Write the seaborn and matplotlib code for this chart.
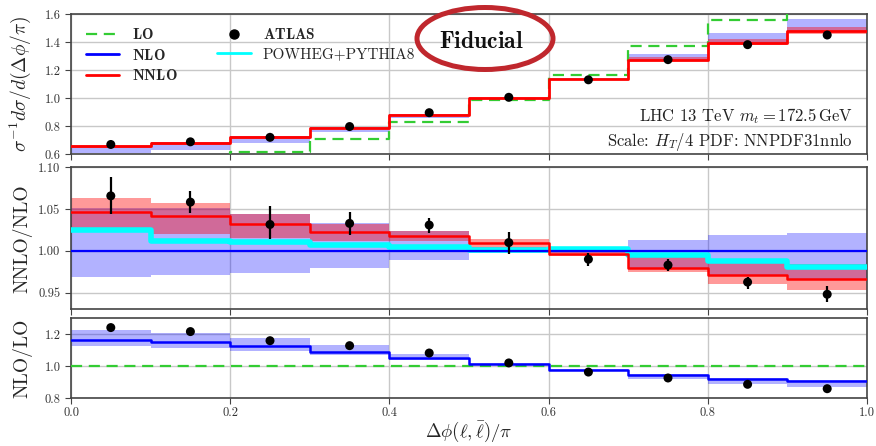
import numpy as np
import matplotlib
matplotlib.use("Agg")
import matplotlib.pyplot as plt
import seaborn as sns
from matplotlib.lines import Line2D
from matplotlib.patches import Ellipse

# ---------------- data ----------------
bin_edges = [0.0, 0.1, 0.2, 0.3, 0.4, 0.5, 0.6, 0.7, 0.8, 0.9, 1.0]
bin_centers = [0.05, 0.15, 0.25, 0.35, 0.45, 0.55, 0.65, 0.75, 0.85, 0.95]

# top panel: normalised distribution
lo_top = [0.540, 0.564, 0.614, 0.705, 0.826, 0.986, 1.164, 1.368, 1.560, 1.690]
nlo_top = [0.628, 0.649, 0.695, 0.770, 0.864, 0.993, 1.139, 1.297, 1.437, 1.531]
nnlo_top = [0.657, 0.676, 0.718, 0.788, 0.880, 1.002, 1.136, 1.272, 1.394, 1.478]
atlas_top = [0.668, 0.687, 0.719, 0.796, 0.895, 1.005, 1.130, 1.274, 1.381, 1.450]

# middle panel: ratio to NLO
nlo_r_hi = [1.052, 1.052, 1.044, 1.033, 1.024, 1.005, 1.002, 1.0134, 1.0187, 1.0218]
nlo_r_lo = [0.9687, 0.9716, 0.974, 0.980, 0.989, 0.997, 0.998, 0.980, 0.970, 0.966]
nnlo_r = [1.0467, 1.0418, 1.0317, 1.0228, 1.0180, 1.0093, 0.9965, 0.9800, 0.9707, 0.9665]
nnlo_r_hi = [1.0634, 1.058, 1.0439, 1.0326, 1.0242, 1.014, 1.000, 0.995, 0.989, 0.984]
nnlo_r_lo = [1.027, 1.0203, 1.0155, 1.0114, 1.012, 1.004, 0.994, 0.9748, 0.9606, 0.9537]
powheg_r = [1.0246, 1.0122, 1.0106, 1.007, 1.005, 1.0016, 1.0028, 0.9947, 0.9874, 0.981]
atlas_r = [1.066, 1.0585, 1.0317, 1.033, 1.031, 1.010, 0.990, 0.983, 0.9626, 0.948]
atlas_r_err_lo = [0.022, 0.0125, 0.018, 0.0135, 0.009, 0.0137, 0.008, 0.007, 0.0086, 0.009]
atlas_r_err_hi = [0.0227, 0.013, 0.0216, 0.014, 0.009, 0.0128, 0.0075, 0.007, 0.0056, 0.010]

# bottom panel: NLO / LO
nlo_lo_r = [1.1625, 1.150, 1.129, 1.092, 1.050, 1.017, 0.979, 0.948, 0.919, 0.906]
nlo_lo_r_hi = [1.229, 1.208, 1.175, 1.131, 1.075, 1.022, 0.985, 0.955, 0.930, 0.912]
nlo_lo_r_lo = [1.127, 1.114, 1.098, 1.069, 1.040, 1.012, 0.970, 0.923, 0.8875, 0.871]
atlas_lo_r = [1.242, 1.217, 1.160, 1.129, 1.083, 1.021, 0.964, 0.927, 0.8875, 0.860]

x_ticks = [0.0, 0.2, 0.4, 0.6, 0.8, 1.0]
top_yticks = [0.6, 0.8, 1.0, 1.2, 1.4, 1.6]
mid_yticks = [0.95, 1.00, 1.05, 1.10]
bot_yticks = [0.8, 1.0, 1.2]

legend_labels = [r"$\mathbf{LO}$", r"$\mathbf{NLO}$", r"$\mathbf{NNLO}$",
                 r"$\mathbf{ATLAS}$", "POWHEG+PYTHIA8"]

# ---------------- style ----------------
sns.set_style("whitegrid")
plt.rcParams.update({
    "font.family": ["cmr10", "DejaVu Serif"],
    "mathtext.fontset": "cm",
    "axes.formatter.use_mathtext": True,
    "axes.edgecolor": "#444444",
    "axes.linewidth": 1.2,
    "grid.color": "#c8c8c8",
    "grid.linewidth": 1.0,
    "xtick.bottom": True,
    "ytick.left": True,
    "xtick.direction": "out",
    "ytick.direction": "out",
    "xtick.major.size": 4,
    "ytick.major.size": 4,
    "xtick.major.pad": 2.5,
    "xtick.color": "#444444",
    "ytick.color": "#444444",
    "xtick.labelcolor": "#333333",
    "ytick.labelcolor": "#333333",
    "xtick.labelsize": 9,
    "ytick.labelsize": 9,
})

W, H = 876, 446
fig = plt.figure(figsize=(W / 100, H / 100), dpi=100)

def axes_px(left, top, right, bottom):
    return fig.add_axes([left / W, 1 - bottom / H, (right - left) / W, (bottom - top) / H])

ax1 = axes_px(71, 14, 867, 154)
ax2 = axes_px(71, 167.5, 867, 309.3)
ax3 = axes_px(71, 318.3, 867, 398.3)

def ext(v):
    return np.append(np.asarray(v, float), v[-1])

def step(ax, vals, **kw):
    sns.lineplot(x=bin_edges, y=ext(vals), drawstyle="steps-post", ax=ax,
                 legend=False, sort=False, **kw)

BLUE = "#0000ff"
RED = "#ff0000"
GREEN = "#33cc33"
CYAN = "#00ffff"

# ---- top panel ----
nlo_arr = np.array(nlo_top)
ax1.fill_between(bin_edges, ext(nlo_arr * np.array(nlo_r_lo)), ext(nlo_arr * np.array(nlo_r_hi)),
                 step="post", color=BLUE, alpha=0.3, lw=0, zorder=2)
ax1.fill_between(bin_edges, ext(nlo_arr * np.array(nnlo_r_lo)), ext(nlo_arr * np.array(nnlo_r_hi)),
                 step="post", color=RED, alpha=0.4, lw=0, zorder=2)
step(ax1, lo_top, color=GREEN, lw=1.6, linestyle=(0, (5, 3)), zorder=3)
step(ax1, nnlo_top, color=RED, lw=2.0, zorder=4)
sns.scatterplot(x=bin_centers, y=atlas_top, color="black", s=42, edgecolor="none",
                ax=ax1, zorder=6, legend=False)

# ---- middle panel ----
ax2.fill_between(bin_edges, ext(nlo_r_lo), ext(nlo_r_hi), step="post",
                 color=BLUE, alpha=0.3, lw=0, zorder=2)
ax2.fill_between(bin_edges, ext(nnlo_r_lo), ext(nnlo_r_hi), step="post",
                 color=RED, alpha=0.4, lw=0, zorder=2)
step(ax2, powheg_r, color=CYAN, lw=4.0, zorder=3)
step(ax2, [1.0] * 10, color=BLUE, lw=1.6, zorder=4)
step(ax2, nnlo_r, color=RED, lw=1.8, zorder=4)
ax2.errorbar(bin_centers, atlas_r, yerr=[atlas_r_err_lo, atlas_r_err_hi], fmt="none",
             ecolor="black", elinewidth=1.6, zorder=5)
sns.scatterplot(x=bin_centers, y=atlas_r, color="black", s=42, edgecolor="none",
                ax=ax2, zorder=6, legend=False)

# ---- bottom panel ----
ax3.fill_between(bin_edges, ext(nlo_lo_r_lo), ext(nlo_lo_r_hi), step="post",
                 color=BLUE, alpha=0.3, lw=0, zorder=2)
step(ax3, [1.0] * 10, color=GREEN, lw=1.6, linestyle=(0, (5, 3)), zorder=3)
step(ax3, nlo_lo_r, color=BLUE, lw=1.8, zorder=4)
sns.scatterplot(x=bin_centers, y=atlas_lo_r, color="black", s=42, edgecolor="none",
                ax=ax3, zorder=6, legend=False)

# ---- axes formatting ----
for ax in (ax1, ax2, ax3):
    ax.set_xlim(0, 1)
    ax.set_xticks(x_ticks)
    ax.grid(True, zorder=0)
    ax.set_axisbelow(True)
    for s in ax.spines.values():
        s.set_visible(True)
        s.set_color("#444444")
        s.set_linewidth(1.2)
    ax.set_xlabel("")

ax1.set_ylim(0.6, 1.6)
ax1.set_yticks(top_yticks)
ax1.set_yticklabels([f"{v:.1f}" for v in top_yticks])
ax2.set_ylim(0.93, 1.10)
ax2.set_yticks(mid_yticks)
ax2.set_yticklabels([f"{v:.2f}" for v in mid_yticks])
ax3.set_ylim(0.8, 1.3)
ax3.set_yticks(bot_yticks)
ax3.set_yticklabels([f"{v:.1f}" for v in bot_yticks])

ax1.tick_params(axis="x", labelbottom=False)
ax2.tick_params(axis="x", labelbottom=False)
ax3.set_xticklabels([f"{v:.1f}" for v in x_ticks])

ax1.set_ylabel(r"$\sigma^{-1}d\sigma/d(\Delta\phi/\pi)$", fontsize=14)
ax2.set_ylabel("NNLO/NLO", fontsize=14)
ax3.set_ylabel("NLO/LO", fontsize=14)
for ax in (ax1, ax2, ax3):
    ax.yaxis.set_label_coords(-0.048, 0.5)
ax3.set_xlabel(r"$\Delta\phi(\ell,\bar{\ell})/\pi$", fontsize=13.5)
ax3.xaxis.set_label_coords(0.5, -0.42)
ax3.xaxis.label.set_va("center")

# legend
handles = [
    Line2D([], [], color=GREEN, lw=1.6, linestyle=(0, (5, 3))),
    Line2D([], [], color=BLUE, lw=2.0),
    Line2D([], [], color=RED, lw=2.0),
    Line2D([], [], color="black", marker="o", ms=6.5, lw=0),
    Line2D([], [], color=CYAN, lw=2.0),
]
ax1.legend(handles, legend_labels, loc="upper left", ncol=2, frameon=False,
           fontsize=11, handlelength=2.2, labelspacing=0.35, columnspacing=2.6,
           borderaxespad=0.3, bbox_to_anchor=(0.005, 0.98))

# annotations
ax1.text(0.982, 0.235, r"LHC 13 TeV $m_t = 172.5\,$GeV", transform=ax1.transAxes,
         ha="right", va="baseline", fontsize=12, color="#222222")
ax1.text(0.982, 0.055, r"Scale: $H_T/4$ PDF: NNPDF31nnlo", transform=ax1.transAxes,
         ha="right", va="baseline", fontsize=12, color="#222222")

fig.text(481 / W, 1 - 48 / H, r"$\mathbf{Fiducial}$", ha="center", va="baseline",
         fontsize=17, color="#111111")
fig.add_artist(Ellipse((485 / W, 1 - 38.5 / H), 136 / W, 62 / H, transform=fig.transFigure,
                       facecolor="none", edgecolor="#c0272d", lw=3.6, zorder=10))

fig.savefig("out.png", dpi=100)
